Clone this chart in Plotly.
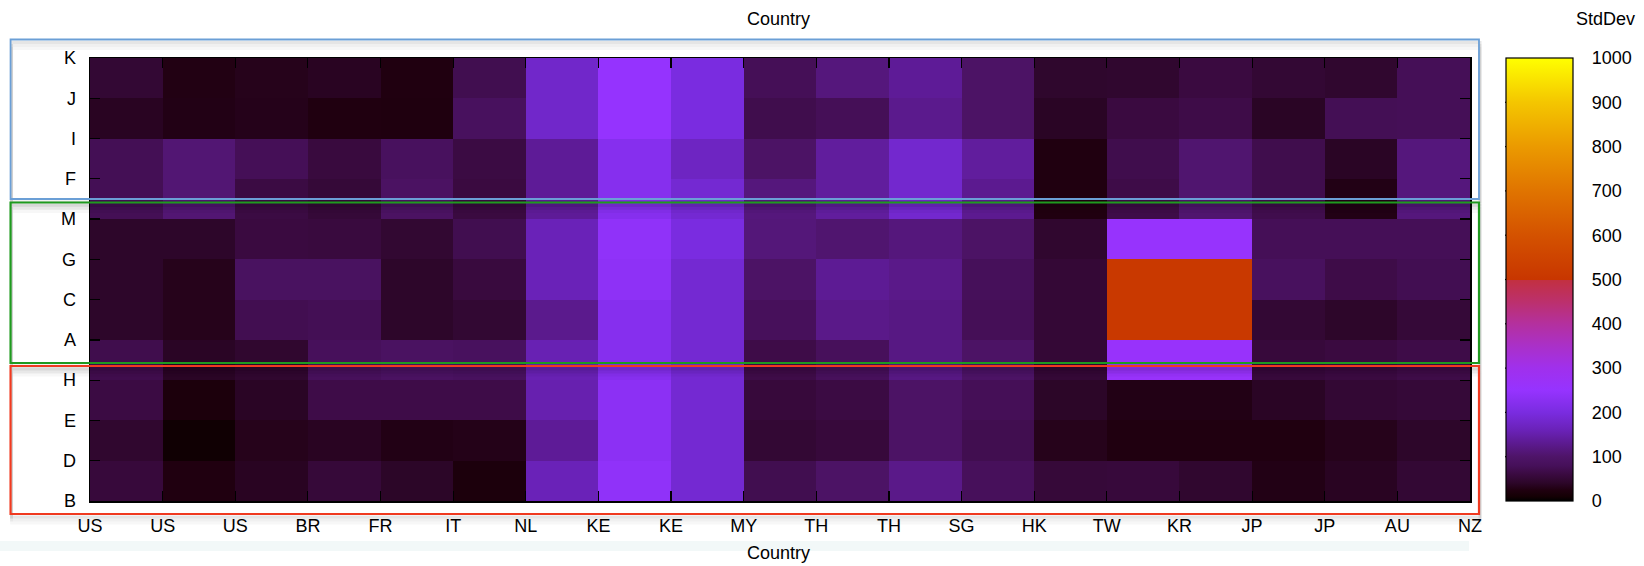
import plotly.graph_objects as go

# ---- data -------------------------------------------------------------
countries = ["US", "US", "US", "BR", "FR", "IT", "NL", "KE", "KE", "MY",
             "TH", "TH", "SG", "HK", "TW", "KR", "JP", "JP", "AU", "NZ"]
# row labels from bottom to top
row_labels = ["B", "D", "E", "H", "A", "C", "G", "M", "F", "I", "J", "K"]

# StdDev per cell band (between consecutive row labels), 19 cells each
band_B_D = [56, 25, 36, 54, 40, 20, 160, 240, 186, 72, 95, 125, 82, 54, 56, 46, 28, 36, 50]
band_D_E = [46, 8, 32, 36, 28, 30, 135, 232, 186, 50, 56, 95, 72, 32, 25, 25, 25, 32, 42]
band_E_H = [62, 20, 38, 66, 66, 66, 153, 232, 186, 56, 62, 95, 78, 40, 28, 28, 38, 50, 53]
band_H_A = [70, 38, 46, 82, 90, 85, 156, 222, 186, 66, 82, 120, 95, 52, 260, 260, 56, 60, 66]
band_A_C = [42, 32, 73, 76, 42, 49, 128, 222, 186, 82, 125, 120, 78, 52, 510, 510, 50, 42, 53]
band_C_G = [42, 32, 88, 88, 42, 58, 160, 236, 186, 95, 133, 125, 80, 52, 510, 510, 86, 66, 74]
band_G_M = [42, 42, 60, 58, 48, 72, 160, 240, 200, 113, 105, 115, 95, 46, 255, 255, 78, 78, 78]
band_M_F = [76, 108, 62, 53, 92, 60, 135, 222, 186, 115, 140, 182, 130, 25, 66, 105, 70, 28, 115]
band_F_I = [76, 108, 78, 58, 86, 62, 135, 222, 170, 95, 140, 182, 140, 25, 70, 105, 70, 38, 115]
band_I_J = [36, 28, 31, 25, 24, 86, 178, 248, 200, 70, 78, 128, 95, 38, 60, 66, 38, 76, 78]
band_J_K = [50, 27, 32, 36, 25, 72, 178, 248, 200, 78, 115, 135, 95, 44, 46, 60, 50, 46, 78]

bands = [band_B_D, band_D_E, band_E_H, band_H_A, band_A_C, band_C_G,
         band_G_M, band_M_F, band_F_I, band_I_J, band_J_K]

cbar_ticks = [0, 100, 200, 300, 400, 500, 600, 700, 800, 900, 1000]

# ---- styling ----------------------------------------------------------
FONT = "Liberation Sans, Arial, Helvetica, sans-serif"
W, H = 1644, 566
L, R, T, B = 90, 1471, 58, 501          # plot area in pixels
pw, ph = R - L, B - T
CB_L, CB_W = 1506, 67                   # colorbar left edge / thickness (px)

def px_x(x):
    return (x - L) / pw

def px_y(y):
    return (B - y) / ph

colorscale = [
    [0.0, "#000000"], [0.01, "#140004"], [0.025, "#200010"], [0.04, "#2c0628"],
    [0.06, "#3a0a40"], [0.08, "#46105a"], [0.10, "#4e1468"], [0.13, "#5c1a90"],
    [0.16, "#6a22b8"], [0.20, "#7a2ce0"], [0.25, "#9633ff"], [0.30, "#a030ec"],
    [0.35, "#aa30c8"], [0.40, "#b4309e"], [0.45, "#bc306c"], [0.4999, "#c23040"],
    [0.50, "#c83600"], [0.60, "#d45200"], [0.70, "#e07400"], [0.80, "#eb9a00"],
    [0.90, "#f4c600"], [1.0, "#ffff00"],
]

cb_x0 = px_x(CB_L)
cb_x1 = px_x(CB_L + CB_W)

fig = go.Figure(go.Heatmap(
    z=bands,
    x=list(range(len(countries))),
    y=list(range(len(row_labels))),
    zmin=0, zmax=1000,
    colorscale=colorscale,
    hoverinfo="skip",
    colorbar=dict(
        x=cb_x0, xanchor="left", xref="paper",
        y=0, yanchor="bottom", len=1, lenmode="fraction",
        thickness=CB_W, thicknessmode="pixels",
        outlinewidth=1.2, outlinecolor="black",
        tickvals=cbar_ticks, ticks="outside", ticklen=15,
        tickcolor="rgba(0,0,0,0)", tickwidth=1,
        ticklabelposition="outside",
        tickfont=dict(family=FONT, size=18, color="black"),
        xpad=0, ypad=0,
    ),
))

axis_common = dict(
    showgrid=False, zeroline=False, showline=True, linecolor="black",
    linewidth=1.5, mirror="allticks", ticks="inside", ticklen=10,
    tickcolor="black", tickwidth=1.2,
    tickfont=dict(family=FONT, size=18, color="black"),
)

fig.update_xaxes(range=[0, len(countries) - 1],
                 tickvals=list(range(len(countries))), ticktext=countries,
                 ticklabelstandoff=8, **axis_common)
fig.update_yaxes(range=[0, len(row_labels) - 1],
                 tickvals=list(range(len(row_labels))), ticktext=row_labels,
                 ticklabelstandoff=9, **axis_common)

shapes = []
# faint band near the bottom
shapes.append(dict(type="rect", xref="paper", yref="paper",
                   x0=px_x(0), x1=px_x(1470), y0=px_y(551), y1=px_y(541),
                   fillcolor="#f2f8f8", line=dict(width=0), layer="below"))

# colorbar ticks on both inner edges
for v in cbar_ticks[1:-1]:
    for xa, xb in [(cb_x0, cb_x0 + 9 / pw), (cb_x1 - 9 / pw, cb_x1)]:
        shapes.append(dict(type="line", xref="paper", yref="paper",
                           x0=xa, x1=xb, y0=v / 1000, y1=v / 1000,
                           line=dict(color="black", width=1.2)))

# highlight boxes (with soft shadows)
boxes = [
    (10.5, 1480, 39.5, 199, "#6b9fd6", 1.8),
    (10.5, 1480, 202.5, 363, "#1f9a1f", 2.2),
    (10.5, 1480, 366, 514, "#f03a20", 2.2),
]
for x0, x1, y0, y1, col, lw in boxes:
    for off, alpha in [(3, 0.10), (6, 0.06), (9, 0.03)]:
        shapes.append(dict(type="rect", xref="paper", yref="paper",
                           x0=px_x(x0 + 1), x1=px_x(x1 + 1),
                           y0=px_y(y1 + off), y1=px_y(y0 + off),
                           line=dict(color=f"rgba(0,0,0,{alpha})", width=3)))
    shapes.append(dict(type="rect", xref="paper", yref="paper",
                       x0=px_x(x0), x1=px_x(x1), y0=px_y(y1), y1=px_y(y0),
                       line=dict(color=col, width=lw)))

annotations = [
    dict(text="Country", xref="paper", yref="paper", x=px_x(779), y=px_y(19),
         showarrow=False, font=dict(family=FONT, size=18, color="black"),
         xanchor="center", yanchor="middle"),
    dict(text="Country", xref="paper", yref="paper", x=px_x(779), y=px_y(553),
         showarrow=False, font=dict(family=FONT, size=18, color="black"),
         xanchor="center", yanchor="middle"),
    dict(text="StdDev", xref="paper", yref="paper", x=px_x(1607), y=px_y(19),
         showarrow=False, font=dict(family=FONT, size=18, color="black"),
         xanchor="center", yanchor="middle"),
]

fig.update_layout(
    width=W, height=H,
    margin=dict(l=L, r=W - R, t=T, b=H - B, pad=0),
    paper_bgcolor="white", plot_bgcolor="white",
    shapes=shapes, annotations=annotations,
    showlegend=False,
)

fig.write_html(
    "out.html",
    config={"displayModeBar": False, "staticPlot": True},
    post_script="document.body.style.margin='0';document.body.style.overflow='hidden';",
)
